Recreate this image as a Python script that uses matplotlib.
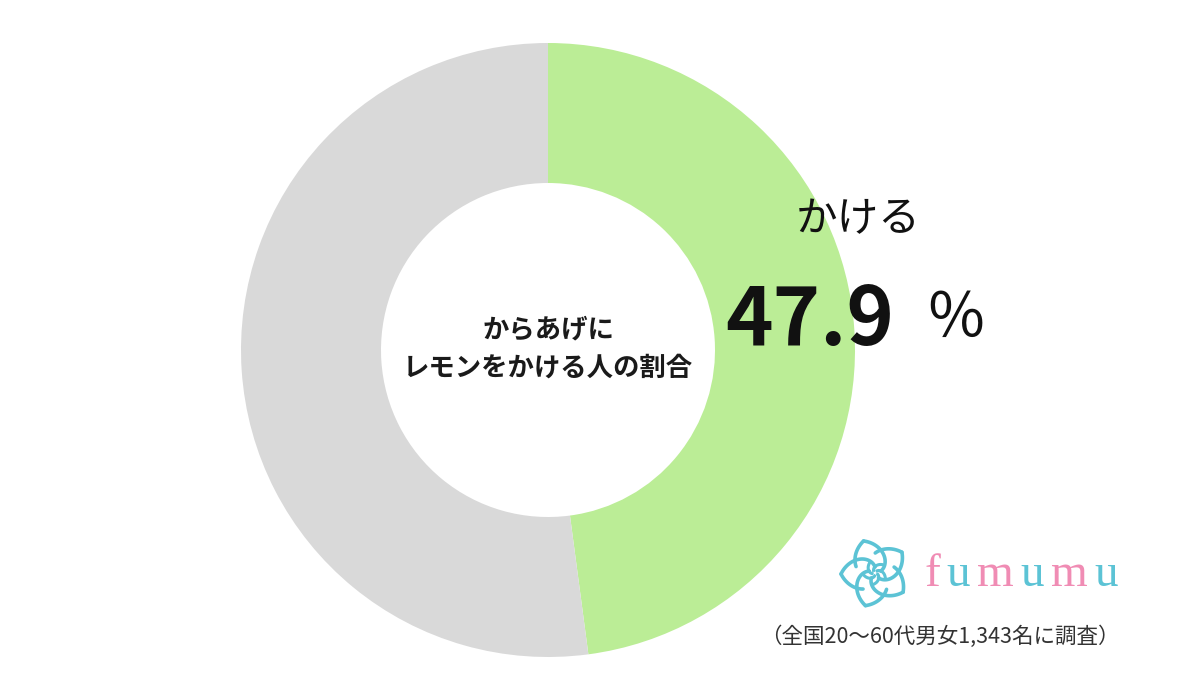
import numpy as np
import matplotlib
matplotlib.use('Agg')
import matplotlib.pyplot as plt

plt.rcParams['font.family'] = ['Noto Sans CJK JP', 'DejaVu Sans']

# data
labels = ['かける', 'かけない']
shares = [47.9, 52.1]
colors = ['#bbed96', '#d9d9d9']
title_lines = ['からあげに', 'レモンをかける人の割合']
pct_label = '47.9'
note = '（全国20〜60代男女1,343名に調査）'
brand = 'fumumu'
brand_colors = ['#f08cb4', '#5cc3d5', '#f08cb4', '#5cc3d5', '#f08cb4', '#5cc3d5']

W, H = 1200, 692
fig = plt.figure(figsize=(W / 100, H / 100), dpi=100)
ax = fig.add_axes([0, 0, 1, 1])

cx, cy = 548, H - 350
R = 307
ring = 140
ax.pie(shares, colors=colors, startangle=90, counterclock=False,
       center=(cx, cy), radius=R, frame=True,
       wedgeprops=dict(width=ring, linewidth=0))
ax.set_xlim(0, W)
ax.set_ylim(0, H)
ax.set_aspect('equal')
ax.axis('off')

# centre caption
ax.text(cx, H - 330, title_lines[0], ha='center', va='center',
        fontsize=19, fontweight='bold', color='#1a1a1a')
ax.text(cx, H - 368, title_lines[1], ha='center', va='center',
        fontsize=19, fontweight='bold', color='#1a1a1a')

# label of the green slice
ax.text(858, H - 220, labels[0], ha='center', va='center',
        fontsize=30, color='#111111')
ax.text(810, H - 322, pct_label, ha='center', va='center',
        fontsize=58, fontweight='bold', color='#111111')
ax.text(956, H - 320, '％', ha='center', va='center',
        fontsize=44, color='#111111')

# logo flower
fx, fy = 875, H - 573
for k in range(5):
    a0 = np.deg2rad(90 + 72 * k)
    t = np.linspace(0, 1, 60)
    r = 6 + 28 * t
    ang = a0 + 1.6 * t
    ax.plot(fx + r * np.cos(ang), fy + r * np.sin(ang),
            color='#5cc3d5', lw=2.6, solid_capstyle='round')
    # hook back at the tip
    t2 = np.linspace(0, 1, 30)
    ang2 = ang[-1] + 0.9 * t2
    r2 = 34 - 14 * t2
    ax.plot(fx + r2 * np.cos(ang2), fy + r2 * np.sin(ang2),
            color='#5cc3d5', lw=2.6, solid_capstyle='round')
    # small inner swirl
    t3 = np.linspace(0, 1, 20)
    r3 = 3 + 8 * t3
    ang3 = a0 + 0.5 - 1.2 * t3
    ax.plot(fx + r3 * np.cos(ang3), fy + r3 * np.sin(ang3),
            color='#5cc3d5', lw=2.2)

# logo text
x = 925
for ch, c in zip(brand, brand_colors):
    ax.text(x, H - 575, ch, ha='left', va='center', fontsize=34,
            family='Liberation Serif', color=c)
    x += 21 if ch == 'f' else (43 if ch == 'm' else 31)

ax.text(1120, H - 637, note, ha='right', va='center',
        fontsize=15.5, color='#333333')

fig.savefig('out.png', dpi=100, facecolor='white')
